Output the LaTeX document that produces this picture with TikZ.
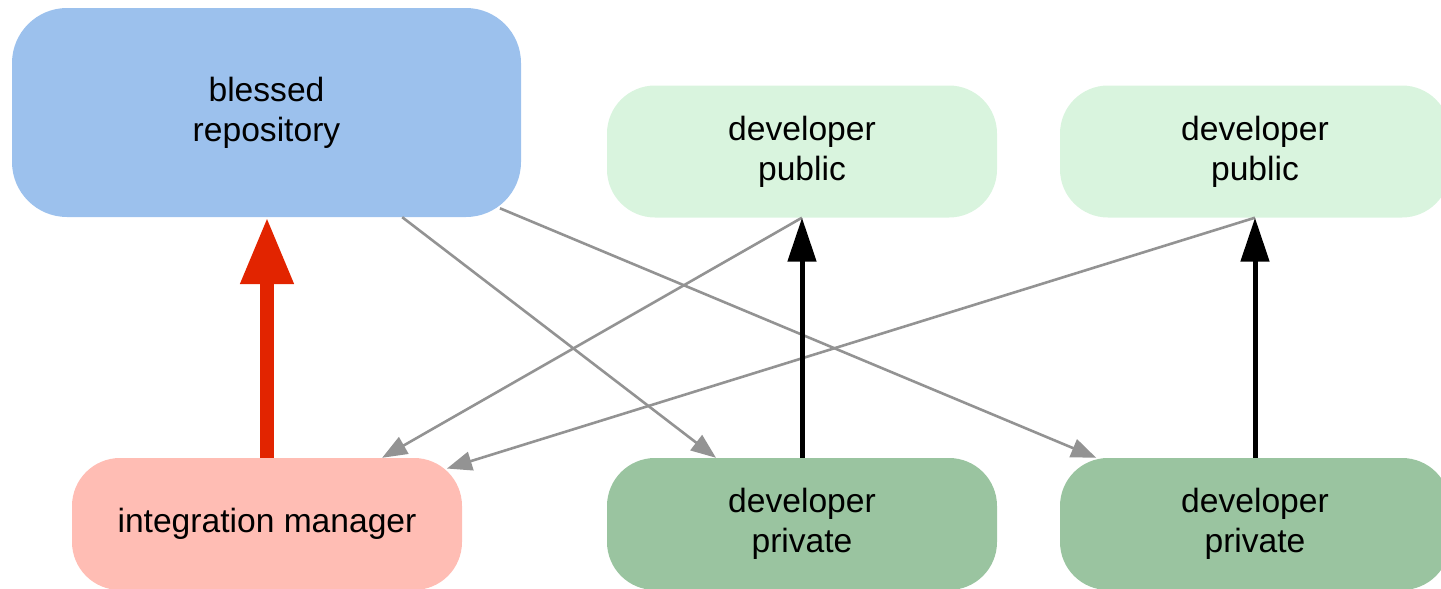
\documentclass[tikz,border=0pt]{standalone}
\usepackage{fontspec}
\setmainfont{Liberation Sans}
\usetikzlibrary{arrows.meta}
\definecolor{cblessed}{HTML}{9CC1ED}
\definecolor{cpub}{HTML}{D9F4DE}
\definecolor{cim}{HTML}{FFBDB4}
\definecolor{cpriv}{HTML}{9AC4A0}
\definecolor{cred}{HTML}{E22400}
\definecolor{cgray}{HTML}{939393}
\tikzset{
  box/.style={rectangle, draw=none, align=center, inner sep=0pt,
    font=\fontsize{33.6}{40}\selectfont, text=black},
  smallbox/.style={box, minimum width=390pt, minimum height=132pt, rounded corners=48pt},
  graylink/.style={draw=cgray, line width=2.6pt, -{Triangle[length=25pt,width=19pt]}},
  pushlink/.style={draw=black, line width=5pt, -{Triangle[length=44pt,width=28pt]}},
  redlink/.style={draw=cred, line width=14pt, -{Triangle[length=67pt,width=50pt]}},
}
\begin{document}
\begin{tikzpicture}[x=1pt,y=-1pt]
\useasboundingbox (0,0) rectangle (1441,589);
\clip (0,0) rectangle (1441,589);
\node[box, fill=cblessed, minimum width=509pt, minimum height=209pt, rounded corners=55pt] (blessed) at (266.5,112.5) {blessed\\repository};
\node[smallbox, fill=cpub] (pub1) at (802,151.5) {developer\\public};
\node[smallbox, fill=cpub] (pub2) at (1255,151.5) {developer\\public};
\node[smallbox, fill=cim] (im) at (267,524) {integration manager};
\node[smallbox, fill=cpriv] (priv1) at (802,524) {developer\\private};
\node[smallbox, fill=cpriv] (priv2) at (1255,524) {developer\\private};

\draw[graylink] (blessed) -- (priv1);
\draw[graylink, shorten <=-23pt] (blessed) -- (priv2);
\draw[graylink] (pub1.south) -- (im);
\draw[graylink, shorten >=-16pt] (pub2.south) -- (im);

\draw[pushlink] (priv1.north) -- (pub1.south);
\draw[pushlink] (priv2.north) -- (pub2.south);
\draw[redlink] (im.north) -- (blessed.south -| im.north);
\end{tikzpicture}
\end{document}
